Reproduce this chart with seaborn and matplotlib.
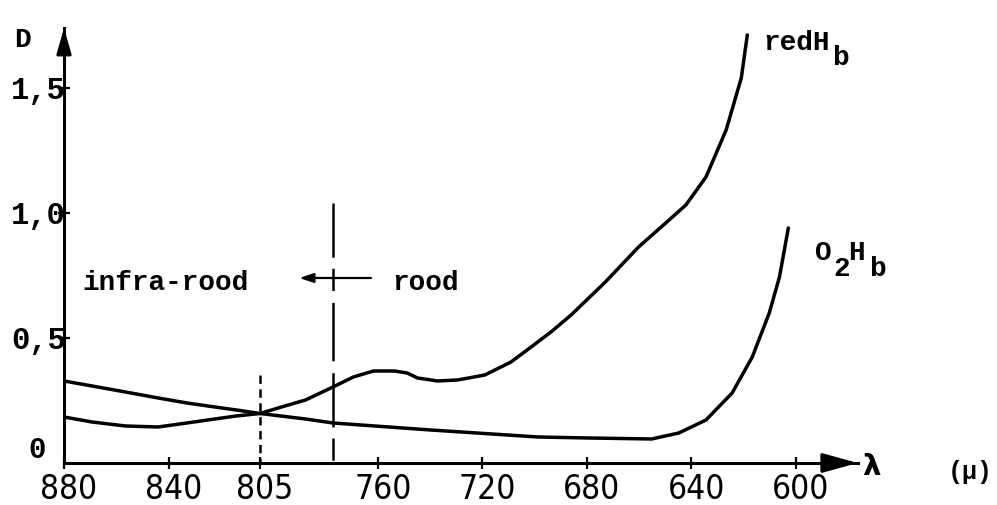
import matplotlib
matplotlib.use("Agg")
import matplotlib.pyplot as plt
import matplotlib.transforms as mtransforms
import seaborn as sns
import pandas as pd
from matplotlib import font_manager

# ---- data ----
wavelength_red = [880, 869.3, 856.5, 844.0, 833.0, 822.3, 814.1, 805, 796.8, 787.6,
                  777.1, 769.3, 761.6, 753.7, 748.7, 744.8, 737.1, 729.4, 719.0, 709.0,
                  701.3, 693.7, 686.0, 672.9, 660.2, 649.8, 642.1, 634.4, 626.7, 620.9,
                  618.6]
absorb_red = [0.184, 0.164, 0.148, 0.144, 0.16, 0.176, 0.188, 0.198, 0.224, 0.252,
              0.304, 0.344, 0.368, 0.368, 0.36, 0.34, 0.328, 0.332, 0.352, 0.404,
              0.464, 0.524, 0.592, 0.724, 0.864, 0.96, 1.032, 1.144, 1.332, 1.54,
              1.712]

wavelength_ox = [880, 869.3, 856.5, 844.0, 833.0, 822.3, 814.1, 805, 787.6, 777.1,
                 739.8, 698.7, 679.4, 655.2, 644.8, 634.4, 624.4, 616.7, 610.2, 606.3,
                 602.9]
absorb_ox = [0.328, 0.308, 0.284, 0.26, 0.24, 0.224, 0.212, 0.198, 0.176, 0.16,
             0.132, 0.104, 0.1, 0.096, 0.12, 0.172, 0.28, 0.424, 0.6, 0.744,
             0.94]

xtick_values = [880, 840, 805, 760, 720, 680, 640, 600]
xtick_labels = ["880", "840", "805", "760", "720", "680", "640", "600"]
ytick_values = [0, 0.5, 1.0, 1.5]
ytick_labels = ["0", "0,5", "1,0", "1,5"]

isosbestic = 805
red_boundary = 777

# ---- style ----
sns.set_theme(style="white")
plt.rcParams['font.family'] = ['Liberation Mono', 'DejaVu Sans']
plt.rcParams['lines.scale_dashes'] = False

# look for a condensed sans face for the x tick labels
narrow_prop = None
for f in font_manager.fontManager.ttflist:
    nm = f.name.lower()
    if ("narrow" in nm or "condensed" in nm or str(f.stretch) in ("condensed", "semi-condensed")) \
            and f.style == "normal" and f.weight in (400, "normal", "regular"):
        narrow_prop = font_manager.FontProperties(fname=f.fname)
        break

fig = plt.figure(figsize=(9.97, 5.05), dpi=100)
ax = fig.add_axes([0.0642, 0.0832, 0.7960, 0.8614])

df_red = pd.DataFrame({"lam": wavelength_red, "D": absorb_red})
df_ox = pd.DataFrame({"lam": wavelength_ox, "D": absorb_ox})
sns.lineplot(data=df_red, x="lam", y="D", ax=ax, color="black", lw=2.5)
sns.lineplot(data=df_ox, x="lam", y="D", ax=ax, color="black", lw=2.5)

ax.set_xlim(880, 576.4)
ax.set_ylim(0, 1.74)
ax.set_xlabel("")
ax.set_ylabel("")

for s in ["top", "right"]:
    ax.spines[s].set_visible(False)
for s in ["left", "bottom"]:
    ax.spines[s].set_color("black")
    ax.spines[s].set_linewidth(2.2)

# arrow heads on axes
ax.annotate("", xy=(1.0, 0), xycoords="axes fraction", xytext=(0.96, 0),
            arrowprops=dict(arrowstyle="-|>,head_length=0.9,head_width=0.25",
                            color="black", lw=2.2, mutation_scale=24,
                            shrinkA=0, shrinkB=0), annotation_clip=False)
ax.annotate("", xy=(0, 1.0), xycoords="axes fraction", xytext=(0, 0.96),
            arrowprops=dict(arrowstyle="-|>,head_length=0.7,head_width=0.2",
                            color="black", lw=2.2, mutation_scale=22,
                            shrinkA=0, shrinkB=0), annotation_clip=False)

# ticks
ax.set_xticks(xtick_values, labels=xtick_labels)
ax.tick_params(axis="x", direction="inout", length=9, width=1.6, pad=3,
               labelsize=21, colors="black", bottom=True)
shift = mtransforms.ScaledTranslation(5 / 100, 0, fig.dpi_scale_trans)
for lab in ax.get_xticklabels():
    if narrow_prop is not None:
        lab.set_fontproperties(narrow_prop)
        lab.set_fontsize(24)
    else:
        lab.set_fontfamily("DejaVu Sans")
    lab.set_transform(lab.get_transform() + shift)

ax.set_yticks(ytick_values[1:], labels=ytick_labels[1:])
ax.tick_params(axis="y", direction="inout", length=9, width=1.6, pad=-6,
               labelsize=22, colors="black", left=True)
for lab in ax.get_yticklabels():
    lab.set_fontweight("bold")
ax.annotate(ytick_labels[0], xy=(880, 0.052), xytext=(-19, 0),
            textcoords="offset points", ha="center", va="center",
            fontsize=21, fontweight="bold", color="black", annotation_clip=False)

# vertical markers
ax.plot([isosbestic, isosbestic], [0.35, 0], color="black", lw=1.8,
        dashes=(6, 4))
ax.plot([red_boundary, red_boundary], [1.04, 0], color="black", lw=1.8,
        dashes=(39, 8, 16, 8.6, 42, 8.6))
ax.annotate("", xy=(790, 0.74), xytext=(red_boundary, 0.74),
            arrowprops=dict(arrowstyle="-|>,head_length=0.6,head_width=0.2",
                            color="black", lw=1.6, mutation_scale=14,
                            shrinkA=0, shrinkB=0))
ax.plot([red_boundary, 762.5], [0.74, 0.74], color="black", lw=1.6)

# texts
txt = dict(color="black", fontweight="bold", fontsize=20, ha="left", va="baseline")
ax.text(873, 0.692, "infra-rood", **txt)
ax.text(754.4, 0.692, "rood", **txt)
ax.text(898.9, 1.664, "D", clip_on=False, **txt)
ax.text(612.6, 1.652, "redH", clip_on=False, **txt)
ax.text(585.9, 1.592, "b", clip_on=False, **txt)
ax.text(592.7, 0.812, "O", clip_on=False, **txt)
ax.text(585.8, 0.748, "2", clip_on=False, **txt)
ax.text(580.1, 0.812, "H", clip_on=False, **txt)
ax.text(571.7, 0.748, "b", clip_on=False, **txt)
ax.text(574.7, -0.048, "λ", clip_on=False, color="black", fontweight="bold",
        fontsize=21, ha="left", va="baseline", family="DejaVu Sans")
ax.text(541.8, -0.065, "(μ)", clip_on=False, color="black", fontweight="bold",
        fontsize=18, ha="left", va="baseline")

fig.savefig("out.png", dpi=100, facecolor="white")
